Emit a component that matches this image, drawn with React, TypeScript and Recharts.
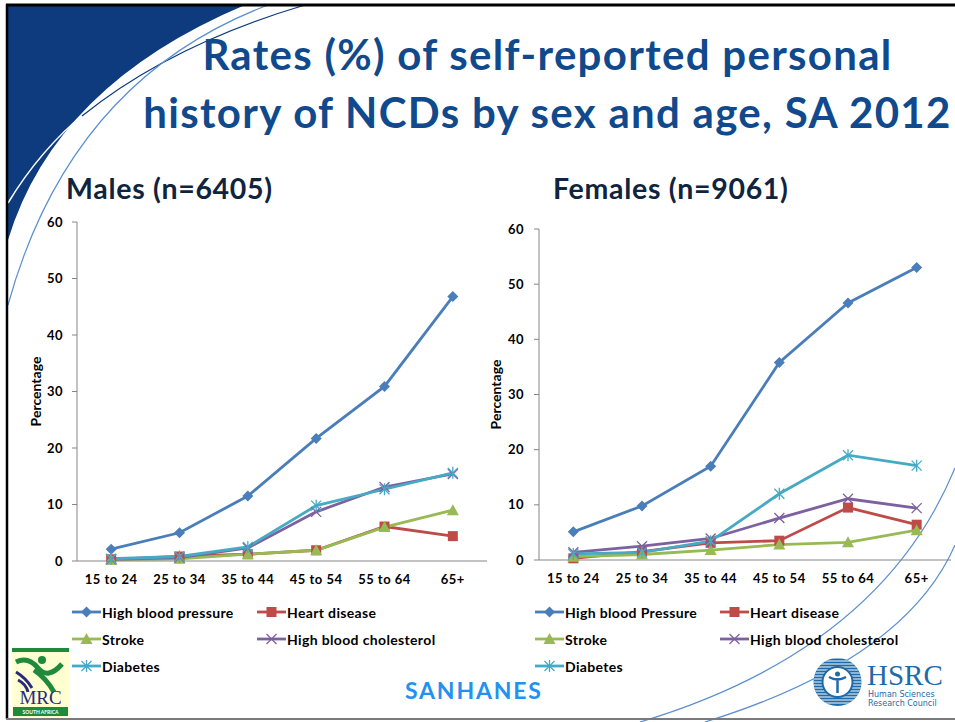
import React from 'react';
import { LineChart, Line, XAxis, YAxis, Label } from 'recharts';

// --- categories & ticks ---
const AGE_GROUPS = ['15 to 24', '25 to 34', '35 to 44', '45 to 54', '55 to 64', '65+'];
const Y_TICKS = [0, 10, 20, 30, 40, 50, 60];

// --- Males (n=6405) ---
const MALE_HBP = [2.1, 5.0, 11.5, 21.7, 30.9, 46.8];
const MALE_HEART = [0.3, 0.8, 1.2, 1.9, 6.1, 4.4];
const MALE_STROKE = [0.2, 0.4, 1.2, 1.9, 6.0, 9.0];
const MALE_CHOL = [0.3, 0.6, 2.3, 8.7, 13.1, 15.4];
const MALE_DIAB = [0.4, 0.8, 2.5, 9.8, 12.7, 15.6];

// --- Females (n=9061) ---
const FEMALE_HBP = [5.1, 9.8, 17.0, 35.8, 46.6, 53.0];
const FEMALE_HEART = [0.3, 1.5, 3.1, 3.5, 9.5, 6.4];
const FEMALE_STROKE = [0.6, 1.0, 1.8, 2.8, 3.2, 5.4];
const FEMALE_CHOL = [1.4, 2.5, 3.9, 7.6, 11.1, 9.4];
const FEMALE_DIAB = [1.1, 1.4, 3.4, 12.0, 19.0, 17.1];

const AXIS_GREY = '#868686';
const FONT = 'Lato, "Open Sans", sans-serif';

type Shape = 'diamond' | 'square' | 'triangle' | 'cross' | 'star';

interface SeriesDef {
  key: string;
  color: string;
  shape: Shape;
}

const SERIES: SeriesDef[] = [
  { key: 'hbp', color: '#4A7EBB', shape: 'diamond' },
  { key: 'heart', color: '#BE4B48', shape: 'square' },
  { key: 'stroke', color: '#98B954', shape: 'triangle' },
  { key: 'chol', color: '#7D60A0', shape: 'cross' },
  { key: 'diab', color: '#46AAC5', shape: 'star' },
];

const MALE_NAMES = ['High blood pressure', 'Heart disease', 'Stroke', 'High blood cholesterol', 'Diabetes'];
const FEMALE_NAMES = ['High blood Pressure', 'Heart disease', 'Stroke', 'High blood cholesterol', 'Diabetes'];

const buildRows = (hbp: number[], heart: number[], stroke: number[], chol: number[], diab: number[]) =>
  AGE_GROUPS.map((_, i) => ({
    x: i + 0.5,
    hbp: hbp[i],
    heart: heart[i],
    stroke: stroke[i],
    chol: chol[i],
    diab: diab[i],
  }));

const maleData = buildRows(MALE_HBP, MALE_HEART, MALE_STROKE, MALE_CHOL, MALE_DIAB);
const femaleData = buildRows(FEMALE_HBP, FEMALE_HEART, FEMALE_STROKE, FEMALE_CHOL, FEMALE_DIAB);

const CAT_TICKS = AGE_GROUPS.map((_, i) => i + 0.5);
const BOUND_TICKS = [0, 1, 2, 3, 4, 5, 6];

const Marker = ({ shape, color, cx, cy }: { shape: Shape; color: string; cx: number; cy: number }) => {
  switch (shape) {
    case 'diamond':
      return <polygon points={`${cx},${cy - 5.5} ${cx + 5.5},${cy} ${cx},${cy + 5.5} ${cx - 5.5},${cy}`} fill={color} />;
    case 'square':
      return <rect x={cx - 5} y={cy - 5} width={10} height={10} fill={color} />;
    case 'triangle':
      return <polygon points={`${cx},${cy - 6} ${cx + 6},${cy + 5} ${cx - 6},${cy + 5}`} fill={color} />;
    case 'cross':
      return (
        <g stroke={color} strokeWidth={1.3}>
          <line x1={cx - 5} y1={cy - 5} x2={cx + 5} y2={cy + 5} />
          <line x1={cx - 5} y1={cy + 5} x2={cx + 5} y2={cy - 5} />
        </g>
      );
    default:
      return (
        <g stroke={color} strokeWidth={1.3}>
          <line x1={cx - 5} y1={cy - 5} x2={cx + 5} y2={cy + 5} />
          <line x1={cx - 5} y1={cy + 5} x2={cx + 5} y2={cy - 5} />
          <line x1={cx} y1={cy - 6} x2={cx} y2={cy + 6} />
        </g>
      );
  }
};

const dotFor = (s: SeriesDef) => (props: any) => {
  const { cx, cy, index } = props;
  if (cx == null || cy == null) return <g key={`${s.key}-${index}`} />;
  return (
    <g key={`${s.key}-${index}`}>
      <Marker shape={s.shape} color={s.color} cx={cx} cy={cy} />
    </g>
  );
};

const tickStyle = { fontFamily: FONT, fontSize: 13, fontWeight: 700, fill: '#000', letterSpacing: 0.5 };

const PercentLabel = (props: any) => {
  const vb = props.viewBox;
  const x = vb.x + 15;
  const y = vb.y + vb.height / 2;
  return (
    <text
      x={x}
      y={y}
      transform={`rotate(-90 ${x} ${y})`}
      textAnchor="middle"
      dominantBaseline="central"
      style={{ fontFamily: FONT, fontSize: 14, fontWeight: 700, fill: '#000' }}
    >
      Percentage
    </text>
  );
};

const AgeChart = ({ data, width, height, right, yWidth, yMargin }: any) => (
  <LineChart width={width} height={height} data={data} margin={{ top: 10, right, bottom: 0, left: 0 }}>
    <XAxis
      xAxisId="bounds"
      dataKey="x"
      type="number"
      domain={[0, 6]}
      ticks={BOUND_TICKS}
      tick={false}
      tickSize={5}
      tickLine={{ stroke: AXIS_GREY }}
      axisLine={false}
      height={0}
    />
    <XAxis
      xAxisId="cat"
      dataKey="x"
      type="number"
      domain={[0, 6]}
      ticks={CAT_TICKS}
      tickFormatter={(v: number) => AGE_GROUPS[Math.floor(v)]}
      tickLine={false}
      tickSize={6}
      tickMargin={8}
      axisLine={{ stroke: AXIS_GREY }}
      tick={tickStyle}
      interval={0}
      height={30}
    />
    <YAxis
      domain={[0, 60]}
      ticks={Y_TICKS}
      tickSize={5}
      tickMargin={yMargin}
      tickLine={{ stroke: AXIS_GREY }}
      axisLine={{ stroke: AXIS_GREY }}
      tick={tickStyle}
      width={yWidth}
      interval={0}
    >
      <Label content={PercentLabel} />
    </YAxis>
    {SERIES.map((s) => (
      <Line
        key={s.key}
        xAxisId="cat"
        type="linear"
        dataKey={s.key}
        stroke={s.color}
        strokeWidth={2.8}
        dot={dotFor(s)}
        activeDot={false}
        isAnimationActive={false}
      />
    ))}
  </LineChart>
);

const LegendItem = ({ s, name, x, y }: { s: SeriesDef; name: string; x: number; y: number }) => (
  <div style={{ position: 'absolute', left: x, top: y - 10, height: 20, display: 'flex', alignItems: 'center', whiteSpace: 'nowrap' }}>
    <svg width={29} height={14} style={{ marginRight: 1 }}>
      <line x1={0} y1={7} x2={29} y2={7} stroke={s.color} strokeWidth={2.8} />
      <Marker shape={s.shape} color={s.color} cx={14.5} cy={7} />
    </svg>
    <span style={{ fontFamily: FONT, fontSize: 14, fontWeight: 700, color: '#000', letterSpacing: 0.35 }}>{name}</span>
  </div>
);

const ChartLegend = ({ names, col1, col2 }: { names: string[]; col1: number; col2: number }) => {
  const rows = [612, 639, 666];
  return (
    <>
      {SERIES.map((s, i) => (
        <LegendItem key={s.key} s={s} name={names[i]} x={i % 2 === 0 ? col1 : col2} y={rows[Math.floor(i / 2)]} />
      ))}
    </>
  );
};

const Decorations = () => (
  <svg width={955} height={722} style={{ position: 'absolute', left: 0, top: 0 }}>
    {/* top-left swoosh */}
    <path d="M 8 5 L 245 5 Q 55 85 8 240 Z" fill="#0D3B7E" />
    <path d="M 8 203 Q 40 150 86 112" stroke="#fff" strokeWidth={1.5} fill="none" />
    <path d="M 82 116 Q 170 45 305 5" stroke="#0D3B7E" strokeWidth={1.3} fill="none" />
    <path d="M 8 305 Q 70 80 268 5" stroke="#5B8FD0" strokeWidth={1.2} fill="none" />
    {/* bottom-right curves */}
    <path d="M 640 722 Q 880 650 955 468" stroke="#5B8FD0" strokeWidth={1.2} fill="none" />
    <path d="M 705 722 Q 905 660 955 545" stroke="#5B8FD0" strokeWidth={1.2} fill="none" />
    {/* frame */}
    <line x1={6} y1={5} x2={955} y2={5} stroke="#000" strokeWidth={3} />
    <line x1={7} y1={4} x2={7} y2={719} stroke="#000" strokeWidth={2.5} />
    <line x1={6} y1={719} x2={955} y2={719} stroke="#7a7a7a" strokeWidth={2} />
  </svg>
);

const MrcLogo = () => (
  <svg width={58} height={70} style={{ position: 'absolute', left: 12, top: 648 }}>
    <rect x={0} y={0} width={57} height={69} fill="#FFFFD2" />
    <rect x={0} y={0} width={57} height={4} fill="#1E8A3C" />
    <path d="M 4 14 Q 16 8 26 20 Q 36 32 50 16" stroke="#1E8A3C" strokeWidth={5} fill="none" />
    <circle cx={30} cy={12} r={4} fill="#1E8A3C" />
    <path d="M 22 22 Q 34 30 42 44" stroke="#1E8A3C" strokeWidth={5} fill="none" />
    <path d="M 4 24 Q 14 30 20 40 M 6 32 Q 14 36 16 44" stroke="#2A2A7A" strokeWidth={3} fill="none" />
    <text x={28.5} y={56} textAnchor="middle" style={{ fontFamily: '"Liberation Serif", serif', fontSize: 19, fill: '#2A2A7A' }}>
      MRC
    </text>
    <rect x={1} y={59} width={55} height={9} fill="#1E8A3C" />
    <text x={28.5} y={66} textAnchor="middle" style={{ fontFamily: FONT, fontSize: 5, fontWeight: 700, fill: '#fff' }}>
      SOUTH AFRICA
    </text>
  </svg>
);

const HsrcLogo = () => {
  const stripes = Array.from({ length: 16 }, (_, i) => 3 + i * 3);
  return (
    <svg width={140} height={56} style={{ position: 'absolute', left: 810, top: 655 }}>
      <defs>
        <clipPath id="hsrc-c">
          <circle cx={27.5} cy={27} r={24} />
        </clipPath>
      </defs>
      <circle cx={27.5} cy={27} r={24} fill="#1F6AA8" />
      <g clipPath="url(#hsrc-c)">
        {stripes.map((y) => (
          <line key={y} x1={0} y1={y} x2={56} y2={y} stroke="#fff" strokeWidth={1} />
        ))}
      </g>
      <circle cx={27.5} cy={27} r={15} fill="#fff" stroke="#1F6AA8" strokeWidth={2} />
      <circle cx={27.5} cy={19} r={2.5} fill="#1F6AA8" />
      <path d="M 19 22 Q 27.5 27 36 22 M 27.5 23 L 27.5 38" stroke="#1F6AA8" strokeWidth={2.5} fill="none" />
      <text x={57} y={30} style={{ fontFamily: '"Liberation Serif", serif', fontSize: 29, fill: '#1F6AA8' }}>
        HSRC
      </text>
      <text x={58} y={42} style={{ fontFamily: '"DejaVu Sans", sans-serif', fontSize: 8, fill: '#1F6AA8' }}>
        Human Sciences
      </text>
      <text x={58} y={51} style={{ fontFamily: '"DejaVu Sans", sans-serif', fontSize: 8, fill: '#1F6AA8' }}>
        Research Council
      </text>
    </svg>
  );
};

export default function App() {
  return (
    <div style={{ position: 'absolute', left: 0, top: 0, width: 955, height: 722, background: '#fff', overflow: 'hidden', fontFamily: FONT }}>
      <Decorations />

      <div
        style={{
          position: 'absolute',
          left: 100,
          top: 25,
          width: 895,
          textAlign: 'center',
          color: '#104A8C',
          fontSize: 42,
          fontWeight: 700,
          letterSpacing: 1.3,
          lineHeight: '58px',
        }}
      >
        Rates (%) of self-reported personal
        <br />
        history of NCDs by sex and age, SA 2012
      </div>

      <div style={{ position: 'absolute', left: 66, top: 171, fontSize: 28.5, fontWeight: 700, color: '#0F243E', letterSpacing: 0.7, whiteSpace: 'nowrap' }}>
        Males (n=6405)
      </div>
      <div style={{ position: 'absolute', left: 553, top: 171, fontSize: 28.5, fontWeight: 700, color: '#0F243E', letterSpacing: 0.7, whiteSpace: 'nowrap' }}>
        Females (n=9061)
      </div>

      <div style={{ position: 'absolute', left: 20, top: 212 }}>
        <AgeChart data={maleData} width={480} height={379} right={13} yWidth={57} yMargin={9} />
      </div>
      <div style={{ position: 'absolute', left: 480, top: 219 }}>
        <AgeChart data={femaleData} width={475} height={371} right={4} yWidth={59} yMargin={10} />
      </div>

      <ChartLegend names={MALE_NAMES} col1={72} col2={257} />
      <ChartLegend names={FEMALE_NAMES} col1={535} col2={720} />

      <div style={{ position: 'absolute', left: 405, top: 676, fontSize: 23, fontWeight: 700, color: '#2391F0', letterSpacing: 1.8 }}>SANHANES</div>

      <MrcLogo />
      <HsrcLogo />
    </div>
  );
}
